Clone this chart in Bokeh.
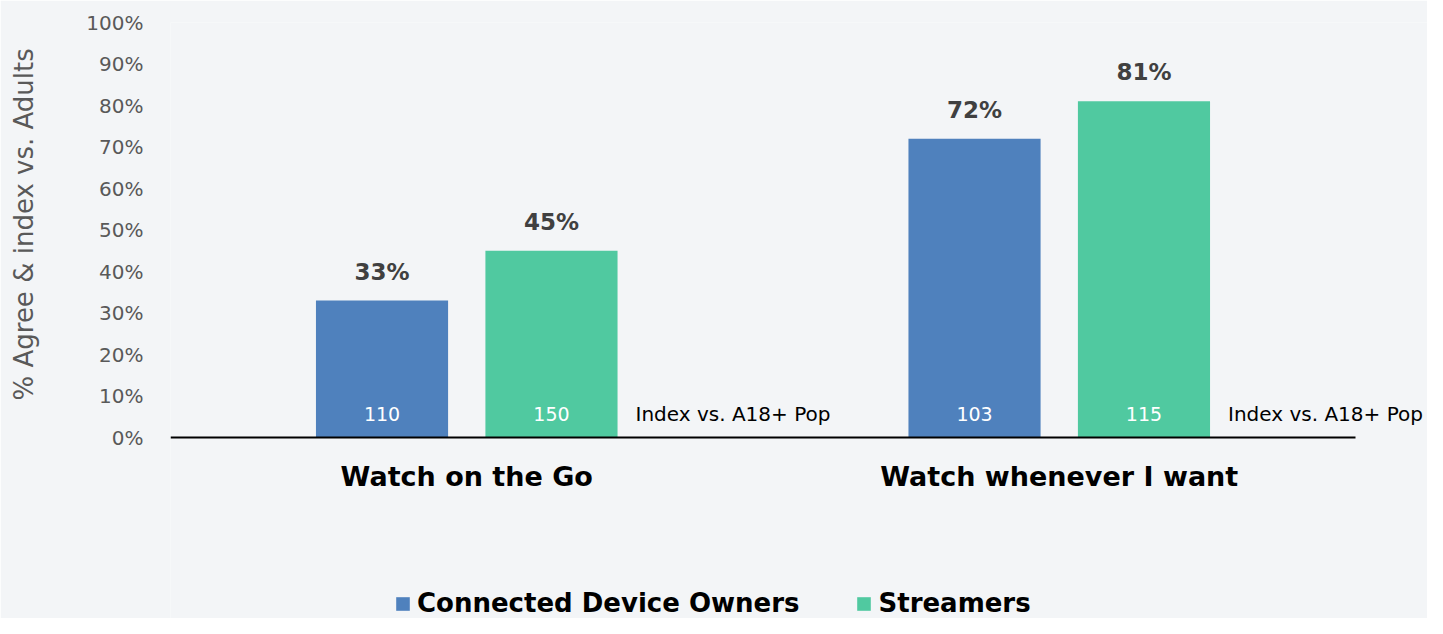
from bokeh.plotting import figure
from bokeh.models import Range1d, FixedTicker, Legend, LegendItem, ColumnDataSource, Title
from bokeh.core.properties import value
from bokeh.embed import file_html
from bokeh.resources import INLINE

categories = ["Watch on the Go", "Watch whenever I want"]
series = ["Connected Device Owners", "Streamers"]
owners_pct = [33, 72]
streamers_pct = [45, 81]
owners_index = [110, 103]
streamers_index = [150, 115]
index_note = "Index vs. A18+ Pop"
y_title = "% Agree & index vs. Adults"
y_ticks = list(range(0, 101, 10))
y_tick_labels = [f"{t}%" for t in y_ticks]
colors = ["#4F81BD", "#50C9A0"]

FONT = "DejaVu Sans"
BAR_W = 0.223
OFFS = [-0.143, 0.143]

# layout (pixels)
W, H = 1427, 618
LEFT, TOP = 170, 22
ZERO_PX = 437            # pixel row of the 0% baseline
PX_PER_CAT = 592.5
PX_PER_PCT = (ZERO_PX - TOP) / 100.0

centers = [i + 0.5 for i in range(len(categories))]

x_max = (W - LEFT) / PX_PER_CAT
y_min = -(H - ZERO_PX) / PX_PER_PCT

p = figure(width=W, height=H, output_backend="svg", toolbar_location=None,
           x_range=Range1d(0, x_max), y_range=Range1d(y_min, 100),
           x_axis_location=None,
           min_border_left=LEFT, min_border_right=0, min_border_top=TOP, min_border_bottom=0)
p.background_fill_color = "#F3F5F7"
p.border_fill_color = "#F3F5F7"
p.outline_line_color = None
p.grid.visible = False

renderers = []
for s_i, (vals, idx) in enumerate([(owners_pct, owners_index), (streamers_pct, streamers_index)]):
    src = ColumnDataSource(dict(
        x=[c + OFFS[s_i] for c in centers],
        top=vals,
        pct=[f"{v}%" for v in vals],
        idx=[str(v) for v in idx],
        zero=[0] * len(vals),
    ))
    r = p.vbar(x="x", top="top", width=BAR_W, bottom=0, source=src,
               fill_color=colors[s_i], line_color=None)
    renderers.append(r)
    p.text(x="x", y="top", text="pct", source=src, text_align="center", text_baseline="bottom",
           y_offset=-16, text_font=value(FONT), text_font_style="bold", text_font_size="23px",
           text_color="#404040")
    p.text(x="x", y="zero", text="idx", source=src, text_align="center", text_baseline="middle",
           y_offset=-24, text_font=value(FONT), text_font_size="19px", text_color="white")

note_src = ColumnDataSource(dict(x=[c + OFFS[1] + BAR_W / 2 for c in centers],
                                 y=[0] * len(centers), t=[index_note] * len(centers)))
p.text(x="x", y="y", text="t", source=note_src, text_align="left", text_baseline="middle",
       x_offset=18, y_offset=-24, text_font=value(FONT), text_font_size="20px", text_color="black")

# category labels
cat_src = ColumnDataSource(dict(x=centers, y=[0] * len(centers), t=categories))
p.text(x="x", y="y", text="t", source=cat_src, text_align="center", text_baseline="middle",
       y_offset=39, text_font=value(FONT), text_font_size="27px", text_font_style="bold",
       text_color="black")

# baseline
p.segment(x0=[0], y0=[0], x1=[len(categories)], y1=[0], line_color="black", line_width=2)

# y axis
p.yaxis.ticker = FixedTicker(ticks=y_ticks)
p.yaxis.major_label_overrides = {t: l for t, l in zip(y_ticks, y_tick_labels)}
p.yaxis.axis_line_color = None
p.yaxis.major_tick_line_color = None
p.yaxis.minor_tick_line_color = None
p.yaxis.major_label_text_font = FONT
p.yaxis.major_label_text_font_size = "20px"
p.yaxis.major_label_text_color = "#595959"
p.yaxis.major_label_standoff = 21
# blank spacer label to push the title outward
p.yaxis.axis_label = " "
p.yaxis.axis_label_text_font_size = "10px"
p.yaxis.axis_label_standoff = 31

title = Title(text=y_title, align="left", offset=218, standoff=0,
              text_font=FONT, text_font_size="26px", text_font_style="normal",
              text_color="#595959")
p.add_layout(title, "left")

legend = Legend(items=[LegendItem(label=s, renderers=[r]) for s, r in zip(series, renderers)],
                orientation="horizontal", location=(224, 0))
legend.label_text_font = FONT
legend.label_text_font_size = "26px"
legend.label_text_font_style = "bold"
legend.label_text_color = "black"
legend.glyph_width = 17
legend.glyph_height = 17
legend.label_standoff = 6
legend.spacing = 56
legend.padding = 0
legend.margin = 0
legend.border_line_color = None
legend.background_fill_alpha = 0
p.add_layout(legend, "center")

open("out.html", "w").write(file_html(p, INLINE))
